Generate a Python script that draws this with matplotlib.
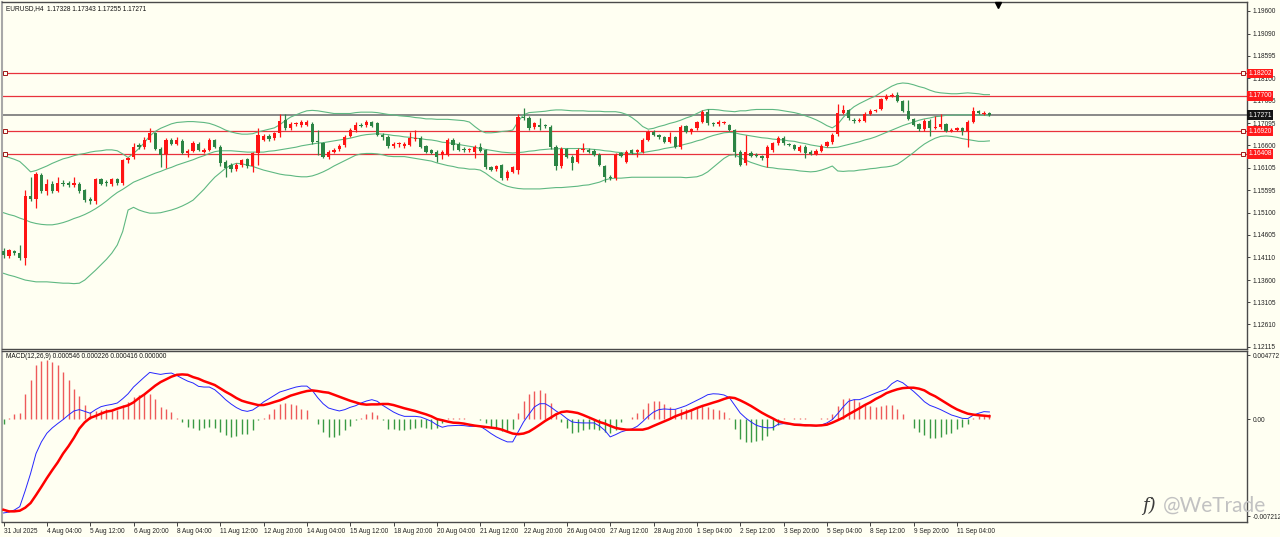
import numpy as np
import matplotlib
matplotlib.use("Agg")
import matplotlib.pyplot as plt
from matplotlib.transforms import blended_transform_factory

# ---- EURUSD H4 candles, bar 0 = 31 Jul 2025 20:00 ----
opens = [
    1.1424, 1.1413, 1.1424, 1.1420, 1.1408, 1.1547, 1.1540, 1.1594, 1.1559, 1.1575,
    1.1559, 1.1577, 1.1576, 1.1572, 1.1574, 1.1560, 1.1540, 1.1537, 1.1585, 1.1578,
    1.1574, 1.1584, 1.1576, 1.1627, 1.1635, 1.1661, 1.1657, 1.1672, 1.1687, 1.1653,
    1.1640, 1.1672, 1.1664, 1.1670, 1.1643, 1.1648, 1.1664, 1.1645, 1.1650, 1.1672,
    1.1657, 1.1624, 1.1616, 1.1607, 1.1616, 1.1629, 1.1613, 1.1642, 1.1673, 1.1681,
    1.1676, 1.1687, 1.1716, 1.1698, 1.1708, 1.1705, 1.1706, 1.1708, 1.1669, 1.1665,
    1.1635, 1.1646, 1.1651, 1.1661, 1.1681, 1.1694, 1.1706, 1.1705, 1.1711, 1.1709,
    1.1683, 1.1679, 1.1659, 1.1662, 1.1658, 1.1661, 1.1674, 1.1677, 1.1659, 1.1650,
    1.1646, 1.1639, 1.1639, 1.1672, 1.1664, 1.1653, 1.1650, 1.1646, 1.1657, 1.1650,
    1.1611, 1.1607, 1.1616, 1.1587, 1.1601, 1.1605, 1.1724, 1.1722, 1.1700, 1.1705,
    1.1705, 1.1702, 1.1657, 1.1614, 1.1651, 1.1635, 1.1624, 1.1650, 1.1650, 1.1648,
    1.1639, 1.1614, 1.1590, 1.1587, 1.1642, 1.1624, 1.1650, 1.1646, 1.1646, 1.1673,
    1.1690, 1.1683, 1.1678, 1.1668, 1.1678, 1.1657, 1.1703, 1.1690, 1.1698, 1.1713,
    1.1735, 1.1710, 1.1707, 1.1710, 1.1705, 1.1694, 1.1646, 1.1620, 1.1644, 1.1639,
    1.1636, 1.1631, 1.1650, 1.1665, 1.1676, 1.1663, 1.1661, 1.1648, 1.1657, 1.1646,
    1.1641, 1.1648, 1.1659, 1.1667, 1.1686, 1.1733, 1.1739, 1.1716, 1.1715, 1.1715,
    1.1731, 1.1737, 1.1741, 1.1763, 1.1771, 1.1773, 1.1759, 1.1737, 1.1719, 1.1707,
    1.1696, 1.1715, 1.1699, 1.1700, 1.1707, 1.1693, 1.1694, 1.1699, 1.1692, 1.1713,
    1.1736, 1.1731, 1.17328]
highs = [
    1.1432, 1.1430, 1.1428, 1.1438, 1.1560, 1.1590, 1.1600, 1.1598, 1.1584, 1.1580,
    1.1589, 1.1582, 1.1580, 1.1589, 1.1578, 1.1562, 1.1545, 1.1587, 1.1588, 1.1582,
    1.1587, 1.1588, 1.1630, 1.1635, 1.1665, 1.1666, 1.1678, 1.1698, 1.1690, 1.1656,
    1.1676, 1.1676, 1.1678, 1.1674, 1.1652, 1.1670, 1.1668, 1.1655, 1.1676, 1.1675,
    1.1660, 1.1627, 1.1620, 1.1620, 1.1630, 1.1632, 1.1646, 1.1698, 1.1685, 1.1685,
    1.1690, 1.1731, 1.1731, 1.1711, 1.1713, 1.1716, 1.1716, 1.1711, 1.1694, 1.1668,
    1.1650, 1.1654, 1.1662, 1.1683, 1.1698, 1.1713, 1.1709, 1.1716, 1.1714, 1.1713,
    1.1687, 1.1683, 1.1668, 1.1668, 1.1667, 1.1690, 1.1694, 1.1681, 1.1661, 1.1653,
    1.1649, 1.1650, 1.1676, 1.1676, 1.1668, 1.1657, 1.1654, 1.1661, 1.1666, 1.1653,
    1.1614, 1.1617, 1.1619, 1.1605, 1.1614, 1.1729, 1.1743, 1.1726, 1.1712, 1.1720,
    1.1708, 1.1705, 1.1660, 1.1657, 1.1654, 1.1638, 1.1654, 1.1665, 1.1654, 1.1651,
    1.1642, 1.1617, 1.1593, 1.1642, 1.1645, 1.1650, 1.1653, 1.1653, 1.1676, 1.1694,
    1.1694, 1.1686, 1.1681, 1.1690, 1.1681, 1.1705, 1.1706, 1.1699, 1.1714, 1.1738,
    1.1740, 1.1713, 1.1716, 1.1715, 1.1708, 1.1697, 1.1649, 1.1683, 1.1647, 1.1642,
    1.1639, 1.1661, 1.1668, 1.1680, 1.1680, 1.1666, 1.1664, 1.1660, 1.1660, 1.1650,
    1.1651, 1.1662, 1.1670, 1.1687, 1.1752, 1.1750, 1.1742, 1.1720, 1.1720, 1.1734,
    1.1740, 1.1742, 1.1766, 1.1774, 1.1776, 1.1778, 1.1762, 1.1761, 1.1722, 1.1710,
    1.1718, 1.1718, 1.1726, 1.1730, 1.1710, 1.1698, 1.1702, 1.1702, 1.1716, 1.1746,
    1.1739, 1.1736, 1.17343]
lows = [
    1.1410, 1.1410, 1.1416, 1.1404, 1.1393, 1.1536, 1.1520, 1.1555, 1.1550, 1.1555,
    1.1556, 1.1570, 1.1568, 1.1568, 1.1555, 1.1534, 1.1529, 1.1530, 1.1572, 1.1570,
    1.1570, 1.1572, 1.1572, 1.1620, 1.1630, 1.1653, 1.1652, 1.1668, 1.1650, 1.1612,
    1.1609, 1.1660, 1.1660, 1.1640, 1.1635, 1.1645, 1.1647, 1.1642, 1.1647, 1.1654,
    1.1615, 1.1590, 1.1600, 1.1603, 1.1612, 1.1609, 1.1601, 1.1616, 1.1670, 1.1670,
    1.1672, 1.1679, 1.1695, 1.1694, 1.1704, 1.1702, 1.1703, 1.1664, 1.1638, 1.1631,
    1.1630, 1.1642, 1.1648, 1.1657, 1.1678, 1.1690, 1.1700, 1.1701, 1.1700, 1.1680,
    1.1672, 1.1655, 1.1655, 1.1657, 1.1655, 1.1658, 1.1670, 1.1654, 1.1643, 1.1640,
    1.1624, 1.1629, 1.1636, 1.1650, 1.1647, 1.1646, 1.1646, 1.1632, 1.1645, 1.1607,
    1.1602, 1.1604, 1.1583, 1.1583, 1.1598, 1.1597, 1.1716, 1.1694, 1.1696, 1.1694,
    1.1698, 1.1653, 1.1605, 1.1610, 1.1632, 1.1605, 1.1620, 1.1646, 1.1643, 1.1636,
    1.1613, 1.1579, 1.1583, 1.1583, 1.1633, 1.1620, 1.1640, 1.1635, 1.1643, 1.1670,
    1.1680, 1.1675, 1.1665, 1.1665, 1.1654, 1.1653, 1.1687, 1.1686, 1.1695, 1.1710,
    1.1706, 1.1704, 1.1704, 1.1707, 1.1691, 1.1635, 1.1613, 1.1616, 1.1633, 1.1633,
    1.1628, 1.1611, 1.1646, 1.1661, 1.1661, 1.1658, 1.1650, 1.1645, 1.1632, 1.1638,
    1.1638, 1.1645, 1.1656, 1.1664, 1.1682, 1.1730, 1.1716, 1.1710, 1.1711, 1.1712,
    1.1728, 1.1734, 1.1738, 1.1760, 1.1768, 1.1756, 1.1734, 1.1716, 1.1703, 1.1693,
    1.1693, 1.1681, 1.1696, 1.1697, 1.1689, 1.1690, 1.1691, 1.1684, 1.1657, 1.1710,
    1.1730, 1.1728, 1.17255]
closes = [
    1.1415, 1.1426, 1.1420, 1.1408, 1.1547, 1.1540, 1.1596, 1.1559, 1.1575, 1.1559,
    1.1577, 1.1575, 1.1572, 1.1576, 1.1559, 1.1538, 1.1535, 1.1585, 1.1575, 1.1576,
    1.1584, 1.1576, 1.1627, 1.1631, 1.1657, 1.1657, 1.1673, 1.1687, 1.1653, 1.1638,
    1.1672, 1.1664, 1.1673, 1.1643, 1.1648, 1.1666, 1.1650, 1.1650, 1.1673, 1.1657,
    1.1620, 1.1609, 1.1607, 1.1616, 1.1627, 1.1613, 1.1642, 1.1683, 1.1680, 1.1674,
    1.1687, 1.1715, 1.1698, 1.1707, 1.1709, 1.1713, 1.1712, 1.1668, 1.1667, 1.1635,
    1.1646, 1.1650, 1.1659, 1.1679, 1.1694, 1.1705, 1.1704, 1.1713, 1.1703, 1.1683,
    1.1679, 1.1659, 1.1664, 1.1665, 1.1663, 1.1676, 1.1677, 1.1657, 1.1646, 1.1644,
    1.1635, 1.1646, 1.1672, 1.1661, 1.1650, 1.1650, 1.1651, 1.1657, 1.1648, 1.1611,
    1.1605, 1.1614, 1.1587, 1.1601, 1.1611, 1.1724, 1.1721, 1.1698, 1.1709, 1.1702,
    1.1703, 1.1657, 1.1614, 1.1653, 1.1635, 1.1620, 1.1650, 1.1653, 1.1646, 1.1639,
    1.1616, 1.1590, 1.1587, 1.1639, 1.1636, 1.1646, 1.1644, 1.1650, 1.1672, 1.1690,
    1.1683, 1.1678, 1.1668, 1.1678, 1.1657, 1.1702, 1.1690, 1.1696, 1.1711, 1.1735,
    1.1709, 1.1707, 1.1713, 1.1712, 1.1694, 1.1646, 1.1616, 1.1646, 1.1636, 1.1636,
    1.1631, 1.1657, 1.1665, 1.1676, 1.1665, 1.1661, 1.1653, 1.1657, 1.1644, 1.1641,
    1.1648, 1.1659, 1.1667, 1.1684, 1.1733, 1.1739, 1.1722, 1.1715, 1.1716, 1.1731,
    1.1737, 1.1739, 1.1763, 1.1771, 1.1773, 1.1759, 1.1737, 1.1719, 1.1706, 1.1696,
    1.1715, 1.1699, 1.1701, 1.1707, 1.1692, 1.1695, 1.1699, 1.1692, 1.1713, 1.1736,
    1.1733, 1.1733, 1.17271]

# ---- Bollinger bands (20, 2) as shown ----
bb_upper = [
    1.1636, 1.1633, 1.1629, 1.1624, 1.1613, 1.1601, 1.1604, 1.1609, 1.1614, 1.1620,
    1.1625, 1.1630, 1.1633, 1.1637, 1.1640, 1.1642, 1.1645, 1.1647, 1.1648, 1.1650,
    1.1650, 1.1648, 1.1641, 1.1633, 1.1642, 1.1653, 1.1666, 1.1681, 1.1691, 1.1698,
    1.1703, 1.1708, 1.1711, 1.1712, 1.1713, 1.1713, 1.1712, 1.1711, 1.1709, 1.1705,
    1.1700, 1.1694, 1.1690, 1.1687, 1.1685, 1.1685, 1.1686, 1.1690, 1.1693, 1.1696,
    1.1699, 1.1706, 1.1715, 1.1723, 1.1728, 1.1733, 1.1737, 1.1738, 1.1737, 1.1735,
    1.1733, 1.1731, 1.1731, 1.1731, 1.1731, 1.1733, 1.1734, 1.1734, 1.1734, 1.1733,
    1.1731, 1.1729, 1.1728, 1.1726, 1.1725, 1.1724, 1.1722, 1.1721, 1.1719, 1.1719,
    1.1718, 1.1718, 1.1718, 1.1717, 1.1716, 1.1715, 1.1712, 1.1702, 1.1693, 1.1688,
    1.1688, 1.1689, 1.1691, 1.1692, 1.1694, 1.1713, 1.1728, 1.1733, 1.1734, 1.1735,
    1.1736, 1.1738, 1.1739, 1.1739, 1.1738, 1.1737, 1.1737, 1.1737, 1.1736, 1.1736,
    1.1736, 1.1735, 1.1735, 1.1735, 1.1733, 1.1729, 1.1722, 1.1713, 1.1702, 1.1696,
    1.1698, 1.1702, 1.1705, 1.1709, 1.1712, 1.1716, 1.1721, 1.1725, 1.1731, 1.1737,
    1.1740, 1.1740, 1.1739, 1.1737, 1.1736, 1.1735, 1.1737, 1.1737, 1.1739, 1.1740,
    1.1740, 1.1740, 1.1740, 1.1739, 1.1737, 1.1735, 1.1733, 1.1730, 1.1726, 1.1722,
    1.1717, 1.1711, 1.1704, 1.1699, 1.1707, 1.1722, 1.1736, 1.1746, 1.1753, 1.1759,
    1.1765, 1.1770, 1.1778, 1.1785, 1.1792, 1.1797, 1.1799, 1.1798, 1.1795, 1.1791,
    1.1788, 1.1783, 1.1779, 1.1777, 1.1776, 1.1775, 1.1775, 1.1776, 1.1777, 1.1776,
    1.1775, 1.1773, 1.1773]
bb_mid = [
    1.1510, 1.1506, 1.1503, 1.1498, 1.1494, 1.1489, 1.1486, 1.1484, 1.1483, 1.1483,
    1.1485, 1.1488, 1.1492, 1.1497, 1.1501, 1.1506, 1.1512, 1.1519, 1.1527, 1.1536,
    1.1546, 1.1555, 1.1562, 1.1570, 1.1578, 1.1583, 1.1588, 1.1593, 1.1598, 1.1602,
    1.1607, 1.1611, 1.1616, 1.1620, 1.1624, 1.1628, 1.1633, 1.1637, 1.1642, 1.1646,
    1.1648, 1.1648, 1.1648, 1.1647, 1.1646, 1.1645, 1.1645, 1.1645, 1.1645, 1.1647,
    1.1648, 1.1650, 1.1652, 1.1654, 1.1656, 1.1659, 1.1661, 1.1663, 1.1665, 1.1666,
    1.1668, 1.1670, 1.1672, 1.1674, 1.1676, 1.1679, 1.1682, 1.1684, 1.1685, 1.1686,
    1.1685, 1.1684, 1.1682, 1.1681, 1.1679, 1.1678, 1.1676, 1.1675, 1.1673, 1.1672,
    1.1670, 1.1667, 1.1666, 1.1664, 1.1662, 1.1660, 1.1658, 1.1656, 1.1653, 1.1651,
    1.1649, 1.1647, 1.1645, 1.1644, 1.1643, 1.1644, 1.1645, 1.1647, 1.1648, 1.1650,
    1.1651, 1.1652, 1.1652, 1.1653, 1.1653, 1.1653, 1.1653, 1.1653, 1.1652, 1.1651,
    1.1650, 1.1648, 1.1647, 1.1645, 1.1644, 1.1642, 1.1642, 1.1642, 1.1644, 1.1646,
    1.1648, 1.1650, 1.1653, 1.1655, 1.1657, 1.1660, 1.1663, 1.1666, 1.1670, 1.1673,
    1.1678, 1.1682, 1.1685, 1.1688, 1.1689, 1.1688, 1.1685, 1.1683, 1.1681, 1.1679,
    1.1677, 1.1676, 1.1674, 1.1673, 1.1672, 1.1670, 1.1669, 1.1666, 1.1664, 1.1661,
    1.1659, 1.1657, 1.1655, 1.1655, 1.1656, 1.1659, 1.1662, 1.1665, 1.1668, 1.1672,
    1.1675, 1.1679, 1.1684, 1.1689, 1.1694, 1.1699, 1.1704, 1.1708, 1.1712, 1.1716,
    1.1719, 1.1721, 1.1724, 1.1725, 1.1727, 1.1727, 1.1728, 1.1728, 1.1728, 1.1728,
    1.1727, 1.1727, 1.1726]
bb_lower = [
    1.1375, 1.1371, 1.1368, 1.1364, 1.1360, 1.1358, 1.1356, 1.1356, 1.1356, 1.1355,
    1.1354, 1.1353, 1.1353, 1.1352, 1.1353, 1.1360, 1.1371, 1.1382, 1.1394, 1.1406,
    1.1420, 1.1438, 1.1468, 1.1516, 1.1522, 1.1516, 1.1512, 1.1509, 1.1509, 1.1510,
    1.1513, 1.1516, 1.1520, 1.1525, 1.1531, 1.1538, 1.1550, 1.1562, 1.1576, 1.1589,
    1.1599, 1.1609, 1.1616, 1.1620, 1.1619, 1.1616, 1.1613, 1.1609, 1.1605, 1.1602,
    1.1599, 1.1596, 1.1594, 1.1593, 1.1591, 1.1590, 1.1590, 1.1592, 1.1596, 1.1601,
    1.1607, 1.1614, 1.1620, 1.1626, 1.1632, 1.1638, 1.1641, 1.1642, 1.1642, 1.1641,
    1.1639, 1.1636, 1.1635, 1.1635, 1.1635, 1.1633, 1.1631, 1.1629, 1.1627, 1.1625,
    1.1621, 1.1618, 1.1615, 1.1613, 1.1610, 1.1609, 1.1607, 1.1607, 1.1605, 1.1598,
    1.1589, 1.1581, 1.1574, 1.1569, 1.1566, 1.1564, 1.1563, 1.1563, 1.1563, 1.1563,
    1.1564, 1.1565, 1.1566, 1.1566, 1.1567, 1.1568, 1.1569, 1.1571, 1.1572, 1.1575,
    1.1578, 1.1583, 1.1586, 1.1587, 1.1587, 1.1588, 1.1589, 1.1589, 1.1589, 1.1589,
    1.1589, 1.1589, 1.1589, 1.1589, 1.1589, 1.1589, 1.1588, 1.1589, 1.1590, 1.1594,
    1.1601, 1.1611, 1.1621, 1.1631, 1.1638, 1.1639, 1.1633, 1.1627, 1.1622, 1.1618,
    1.1614, 1.1611, 1.1610, 1.1608, 1.1607, 1.1606, 1.1605, 1.1603, 1.1602, 1.1601,
    1.1602, 1.1605, 1.1609, 1.1614, 1.1603, 1.1602, 1.1603, 1.1603, 1.1605, 1.1606,
    1.1608, 1.1609, 1.1611, 1.1612, 1.1614, 1.1618, 1.1626, 1.1635, 1.1644, 1.1654,
    1.1663, 1.1670, 1.1676, 1.1680, 1.1681, 1.1680, 1.1678, 1.1675, 1.1673, 1.1671,
    1.1669, 1.1669, 1.1670]

# ---- MACD(12,26,9), values in units of 1e-4 ----
macd_main = [
    -69.7, -69.0, -67.5, -65.0, -53.2, -40.3, -25.5, -16.8, -10.4, -6.4,
    -3.2, -0.2, 3.2, 6.2, 7.2, 5.9, 4.5, 7.2, 9.4, 10.4,
    11.1, 12.1, 15.3, 19.0, 24.0, 27.7, 31.4, 34.9, 34.1, 33.4,
    34.1, 34.4, 32.6, 30.4, 28.4, 27.0, 24.5, 24.0, 24.0, 22.0,
    18.5, 14.6, 11.4, 8.7, 6.7, 5.9, 6.9, 9.6, 12.9, 15.3,
    17.8, 20.3, 21.5, 22.8, 24.0, 24.7, 24.7, 21.5, 16.1, 11.6,
    8.4, 7.2, 6.2, 7.2, 8.9, 10.1, 12.1, 13.6, 14.6, 13.4,
    10.4, 7.9, 5.4, 3.5, 2.2, 2.2, 2.2, 1.7, 0.2, -1.5,
    -4.2, -5.9, -4.9, -4.7, -4.5, -4.7, -5.2, -5.2, -5.2, -7.7,
    -10.6, -13.1, -15.1, -16.8, -16.8, -9.4, -2.0, 3.7, 9.2, 11.6,
    11.6, 9.2, 6.2, 3.7, 0.5, -2.0, -2.5, -2.7, -2.7, -2.7,
    -4.9, -8.2, -13.1, -11.4, -9.4, -8.2, -7.2, -5.2, -1.7, 2.2,
    5.4, 7.2, 7.7, 7.4, 7.4, 8.7, 10.1, 12.1, 14.1, 16.1,
    18.3, 19.0, 18.8, 18.1, 16.1, 10.4, 4.7, 1.0, -2.0, -4.5,
    -5.7, -6.4, -6.2, -3.7, -3.2, -3.5, -3.7, -3.7, -4.0, -4.7,
    -4.9, -4.2, -2.7, -0.2, 4.2, 9.2, 13.4, 14.6, 14.6, 16.1,
    17.8, 19.5, 21.0, 22.5, 26.5, 28.9, 27.2, 24.0, 20.8, 17.1,
    13.1, 10.4, 8.9, 7.2, 5.2, 3.2, 2.0, 0.7, 0.5, 3.0,
    4.5, 5.7, 5.46]
macd_signal = [
    -67.3, -68.5, -68.5, -68.0, -65.8, -62.3, -56.4, -50.2, -43.8, -37.8,
    -32.1, -25.5, -20.0, -13.8, -6.9, -2.2, 1.0, 2.5, 4.2, 5.7,
    6.4, 7.9, 9.2, 10.4, 12.6, 15.8, 18.5, 21.8, 25.0, 27.7,
    29.7, 31.7, 33.1, 33.4, 33.1, 31.4, 30.2, 28.4, 27.0, 25.5,
    23.0, 20.5, 18.3, 15.8, 13.8, 12.6, 11.6, 10.6, 10.6, 11.6,
    12.9, 14.1, 15.8, 17.6, 18.8, 20.0, 21.0, 21.5, 21.0, 20.3,
    19.8, 18.3, 16.8, 15.3, 13.8, 12.6, 11.4, 10.9, 11.1, 11.1,
    11.4, 11.4, 10.6, 9.4, 8.2, 7.2, 6.2, 4.9, 3.7, 2.2,
    0.2, -0.7, -1.7, -2.5, -2.7, -3.2, -4.0, -4.7, -5.2, -5.7,
    -6.2, -6.7, -7.7, -9.2, -10.6, -11.1, -10.6, -9.2, -6.7, -4.0,
    -1.2, 1.2, 3.7, 5.4, 5.9, 5.4, 4.7, 3.2, 1.5, -0.2,
    -2.0, -3.2, -4.9, -6.4, -7.2, -7.7, -7.7, -7.7, -7.7, -6.7,
    -4.9, -3.2, -1.5, 0.2, 2.2, 3.7, 5.2, 6.7, 8.4, 9.9,
    11.1, 12.4, 13.6, 15.1, 16.3, 15.8, 14.1, 12.1, 9.9, 7.4,
    4.9, 2.7, 0.7, -1.5, -2.5, -3.2, -4.0, -4.2, -4.5, -4.5,
    -4.7, -4.5, -4.0, -2.5, -0.7, 1.2, 3.7, 5.9, 8.2, 10.6,
    12.6, 15.1, 17.1, 19.5, 21.0, 22.3, 23.2, 23.5, 23.5, 22.8,
    21.5, 19.0, 17.1, 14.6, 12.1, 9.6, 7.4, 5.7, 4.2, 3.5,
    3.0, 2.7, 2.26]
macd_hist = [
    -3.2, 1.0, 3.7, 4.7, 19.0, 28.9, 40.1, 43.3, 43.8, 42.5,
    40.1, 35.1, 28.9, 22.8, 17.1, 10.9, 5.4, 6.2, 6.7, 7.9,
    5.9, 6.7, 10.4, 12.9, 16.6, 17.8, 19.0, 19.0, 15.3, 9.2,
    7.9, 5.4, 1.2, -2.0, -5.7, -6.2, -7.7, -6.2, -5.7, -6.2,
    -9.4, -11.9, -13.1, -12.6, -10.6, -10.6, -8.2, -0.7, 1.2, 3.7,
    7.9, 11.6, 12.1, 11.6, 10.4, 7.9, 6.7, 0.5, -3.2, -9.4,
    -13.1, -13.1, -11.9, -8.2, -5.2, -0.7, 1.2, 3.7, 5.4, 3.0,
    -0.5, -6.9, -7.4, -8.2, -8.2, -7.4, -6.2, -5.4, -6.2, -6.9,
    -6.2, -2.5, 0.7, 0.7, 0.7, 0.7, 0.5, 0.2, -0.5, -3.0,
    -5.4, -7.4, -8.7, -8.7, -7.4, 4.9, 13.6, 18.5, 21.0, 21.5,
    19.8, 12.4, 3.7, -2.0, -6.2, -9.9, -9.4, -7.9, -6.9, -6.9,
    -7.9, -9.4, -9.9, -7.9, -2.0, 0.2, 2.0, 4.5, 7.9, 12.4,
    13.6, 13.6, 11.6, 9.4, 7.9, 7.4, 7.9, 7.9, 9.2, 10.4,
    9.4, 7.9, 6.7, 5.4, 1.2, -6.9, -14.8, -16.8, -16.8, -16.3,
    -15.3, -12.4, -8.0, -4.0, 0.7, 0.5, 0.7, 1.2, 0.7, 0.5,
    0.5, 0.7, 1.2, 3.7, 9.9, 15.3, 16.1, 14.8, 12.9, 11.1,
    9.9, 9.4, 9.9, 10.4, 10.4, 7.4, 3.7, 0.5, -6.2, -9.4,
    -11.9, -13.6, -13.6, -12.9, -11.1, -9.9, -7.4, -5.4, -3.7, 1.2,
    2.5, 3.2, 4.16]

tick_labels = ["31 Jul 2025", "4 Aug 04:00", "5 Aug 12:00", "6 Aug 20:00", "8 Aug 04:00",
               "11 Aug 12:00", "12 Aug 20:00", "14 Aug 04:00", "15 Aug 12:00", "18 Aug 20:00",
               "20 Aug 04:00", "21 Aug 12:00", "22 Aug 20:00", "26 Aug 04:00", "27 Aug 12:00",
               "28 Aug 20:00", "1 Sep 04:00", "2 Sep 12:00", "3 Sep 20:00", "5 Sep 04:00",
               "8 Sep 12:00", "9 Sep 20:00", "11 Sep 04:00"]
price_ticks = [1.19600, 1.19090, 1.18595, 1.18100, 1.17605, 1.17095, 1.16600, 1.16105,
               1.15595, 1.15100, 1.14605, 1.14110, 1.13600, 1.13105, 1.12610, 1.12115]
macd_ticks = [0.004772, 0.0, -0.007212]
macd_tick_labels = ["0.004772", "0.00", "-0.007212"]
red_levels = [1.18202, 1.17700, 1.16920, 1.16408]
anchored_levels = [1.18202, 1.16920, 1.16408]
last_price = 1.17271

BG = "#fffff2"
UP = "#ff1414"
DOWN = "#2c8444"
BAND = "#5fb882"
LEVEL = "#e8323c"
FONT = ["Liberation Sans", "DejaVu Sans"]
plt.rcParams["font.family"] = FONT

o = np.array(opens)
h = np.array(highs)
l = np.array(lows)
c = np.array(closes)
n = len(c)
x = np.arange(n)
main = np.array(macd_main) * 1e-4
signal = np.array(macd_signal) * 1e-4
hist = np.array(macd_hist) * 1e-4

W, H = 1280, 537
BAR_PX = 5.417
fig = plt.figure(figsize=(W / 100, H / 100), dpi=100, facecolor=BG)


def px_axes(x0, y0, x1, y1):
    return fig.add_axes([x0 / W, 1 - y1 / H, (x1 - x0) / W, (y1 - y0) / H])


ax = px_axes(2, 2, 1247, 348.5)
ax2 = px_axes(2, 350.5, 1247, 522)
xlim = (-1.5 / BAR_PX, (1245 - 1.5) / BAR_PX)

for a in (ax, ax2):
    a.set_facecolor(BG)
    a.set_xlim(*xlim)
    for s in a.spines.values():
        s.set_color("#4a4a4a")
        s.set_linewidth(1.0)
    a.spines["left"].set_color("#a8a8a8")
    a.spines["left"].set_linewidth(1.5)
    a.yaxis.tick_right()
    a.tick_params(axis="y", labelsize=4.7, length=2.5, width=0.6, pad=1.5,
                  colors="#222222")

# ---- price panel ----
ax.set_ylim(1.12075, 1.19794)
ax.set_xticks([])
ax.set_yticks(price_ticks)
ax.set_yticklabels([f"{v:.5f}" for v in price_ticks])

ax.plot(x, bb_upper, color=BAND, lw=0.8, zorder=2)
ax.plot(x, bb_mid, color=BAND, lw=0.8, zorder=2)
ax.plot(x, bb_lower, color=BAND, lw=0.8, zorder=2)

for lv in red_levels:
    ax.axhline(lv, color=LEVEL, lw=0.9, zorder=1)
ax.axhline(last_price, color="#808080", lw=1.3, zorder=1)

trans = blended_transform_factory(ax.transAxes, ax.transData)
for lv in anchored_levels:
    ax.plot([0.0025, 0.9968], [lv, lv], ls="none", marker="s", ms=2.6, mfc=BG,
            mec="#a01818", mew=0.7, transform=trans, clip_on=False, zorder=6)

colors = np.where(c >= o, UP, DOWN)
ax.vlines(x, l, h, colors=colors, lw=0.9, zorder=3)
body = np.maximum(np.abs(c - o), 0.00005)
ax.bar(x, body, bottom=np.minimum(o, c), width=0.6, color=colors, lw=0, zorder=4)

for lv in red_levels:
    ax.text(1.0012, lv, f"{lv:.5f}", transform=trans, fontsize=4.7, color="white",
            va="center", ha="left", clip_on=False, zorder=10,
            bbox=dict(boxstyle="square,pad=0.2", fc="#ff1a1a", ec="none"))
ax.text(1.0012, last_price, f"{last_price:.5f}", transform=trans, fontsize=4.7,
        color="white", va="center", ha="left", clip_on=False, zorder=10,
        bbox=dict(boxstyle="square,pad=0.2", fc="#141414", ec="none"))

ax.text(0.0035, 0.991, "EURUSD,H4  1.17328 1.17343 1.17255 1.17271",
        transform=ax.transAxes, fontsize=4.7, va="top", ha="left", color="#111111")
ax.plot([(998 - 2) / 1245], [0.992], marker="v", ms=3.8, color="black",
        transform=ax.transAxes, clip_on=False, zorder=8)

# ---- MACD panel ----
ax2.set_ylim(-0.007641, 0.005119)
ax2.set_yticks(macd_ticks)
ax2.set_yticklabels(macd_tick_labels)
hist_colors = np.where(hist >= 0, "#ee5a5a", "#3a9a44")
ax2.vlines(x, 0, hist, colors=hist_colors, lw=1.0, zorder=2)
ax2.plot(x, main, color="#2626ff", lw=0.7, zorder=3)
ax2.plot(x, signal, color="#ff0000", lw=1.8, zorder=4)
ax2.text(0.0035, 0.985, "MACD(12,26,9) 0.000546 0.000226 0.000416 0.000000",
         transform=ax2.transAxes, fontsize=4.7, va="top", ha="left", color="#111111")

tick_bars = np.arange(len(tick_labels)) * 8
ax2.set_xticks(tick_bars)
ax2.set_xticklabels(tick_labels)
ax2.tick_params(axis="x", labelsize=4.7, length=3, width=0.6, pad=1.2, colors="#222222")
for t in ax2.get_xticklabels():
    t.set_ha("left")

# ---- watermark ----
fig.text(1149 / W, 1 - 506 / H, "f)", fontsize=13, color="#3a3a3a", style="italic",
         family=["DejaVu Serif"], ha="center", va="center")
fig.text(1163 / W, 1 - 506 / H, "@WeTrade", fontsize=15, color="#c2c2c2",
         family=["Lato", "DejaVu Sans"], fontweight="normal", ha="left", va="center")

fig.savefig("out.png", dpi=100, facecolor=BG)
